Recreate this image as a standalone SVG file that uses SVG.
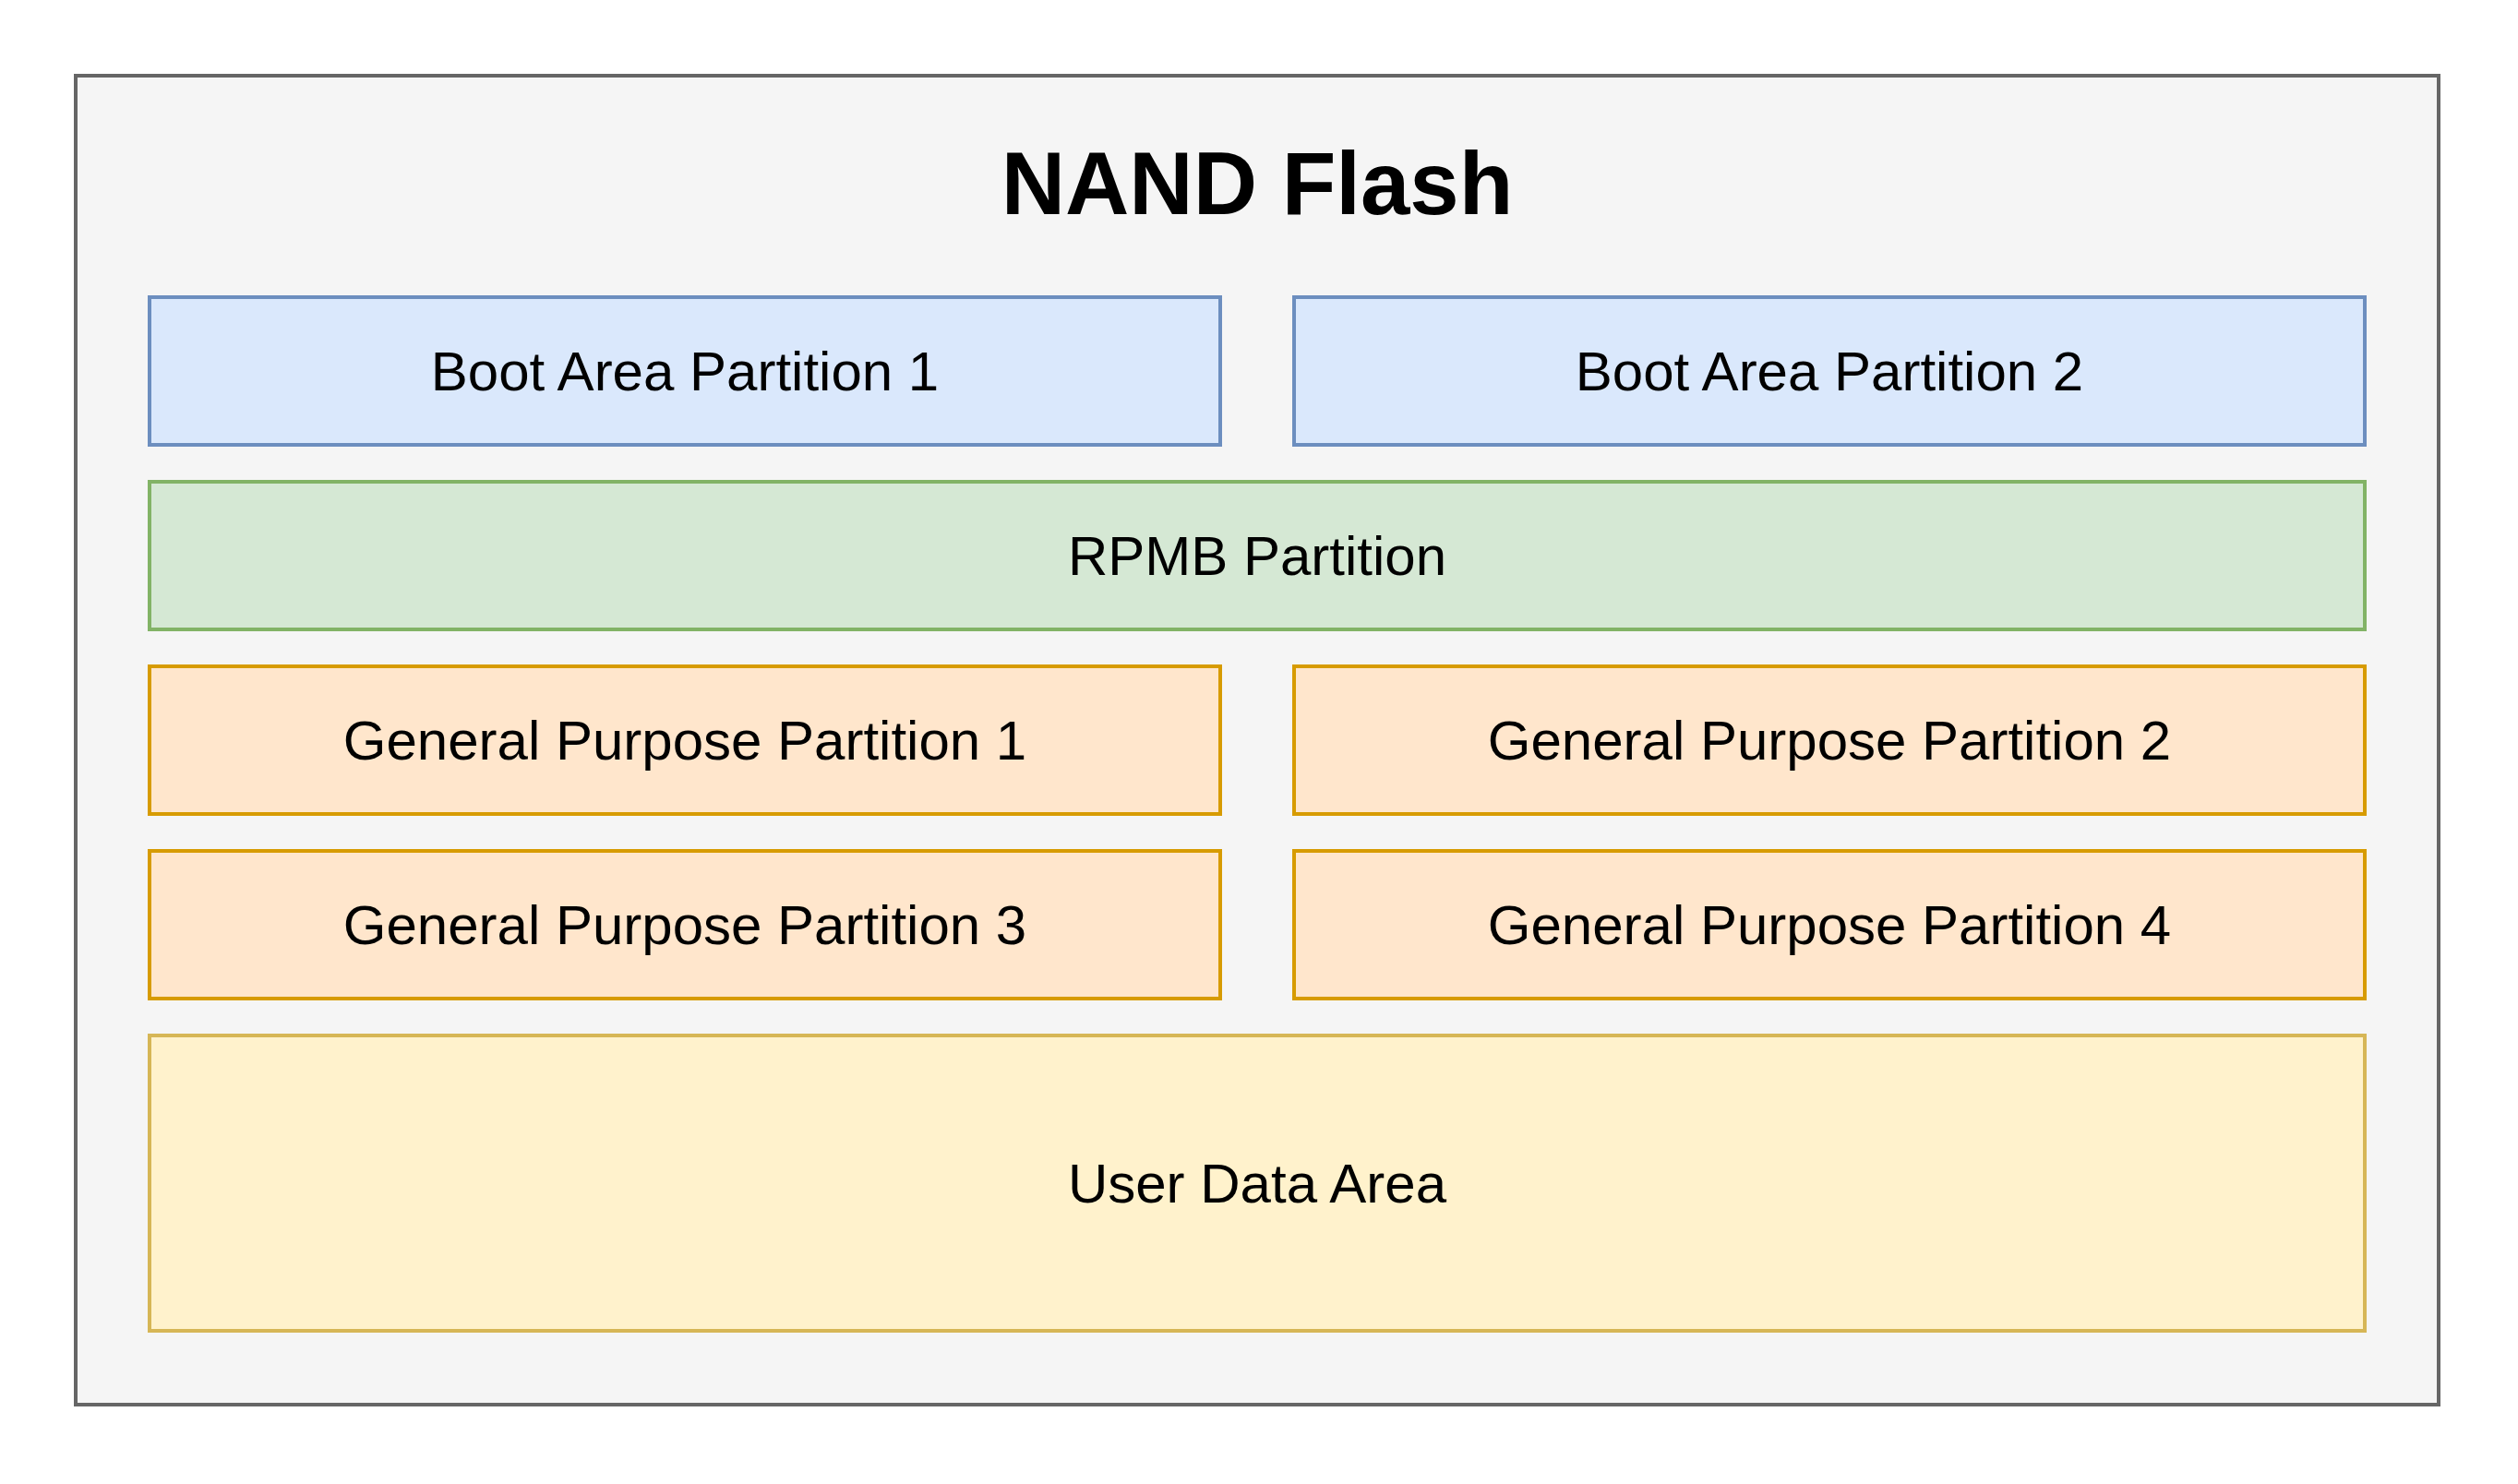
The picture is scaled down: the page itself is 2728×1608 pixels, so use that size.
<svg xmlns="http://www.w3.org/2000/svg" width="2728" height="1608" viewBox="0 0 2728 1608">
<style>
.lbl{font-family:"Liberation Sans",Arial,sans-serif;font-size:60px;fill:#000;text-anchor:middle}
.title{font-family:"Liberation Sans",Arial,sans-serif;font-size:96px;font-weight:bold;fill:#000;text-anchor:middle}
.boot{fill:#dae8fc;stroke:#6c8ebf;stroke-width:4}
.rpmb{fill:#d5e8d4;stroke:#82b366;stroke-width:4}
.gp{fill:#ffe6cc;stroke:#d79b00;stroke-width:4}
.user{fill:#fff2cc;stroke:#d6b656;stroke-width:4}
</style>
<rect width="2728" height="1608" fill="#ffffff"/>
<g id="nand-flash">
<rect x="82" y="82" width="2560" height="1440" fill="#f5f5f5" stroke="#666666" stroke-width="4"/>
<text class="title" x="1362" y="232">NAND Flash</text>
</g>
<g id="boot1"><rect class="boot" x="162" y="322" width="1160" height="160"/><text class="lbl" x="742" y="423">Boot Area Partition 1</text></g>
<g id="boot2"><rect class="boot" x="1402" y="322" width="1160" height="160"/><text class="lbl" x="1982" y="423">Boot Area Partition 2</text></g>
<g id="rpmb"><rect class="rpmb" x="162" y="522" width="2400" height="160"/><text class="lbl" x="1362" y="623">RPMB Partition</text></g>
<g id="gp1"><rect class="gp" x="162" y="722" width="1160" height="160"/><text class="lbl" x="742" y="823">General Purpose Partition 1</text></g>
<g id="gp2"><rect class="gp" x="1402" y="722" width="1160" height="160"/><text class="lbl" x="1982" y="823">General Purpose Partition 2</text></g>
<g id="gp3"><rect class="gp" x="162" y="922" width="1160" height="160"/><text class="lbl" x="742" y="1023">General Purpose Partition 3</text></g>
<g id="gp4"><rect class="gp" x="1402" y="922" width="1160" height="160"/><text class="lbl" x="1982" y="1023">General Purpose Partition 4</text></g>
<g id="user-data"><rect class="user" x="162" y="1122" width="2400" height="320"/><text class="lbl" x="1362" y="1303">User Data Area</text></g>
<g id="connectors"></g>
</svg>
